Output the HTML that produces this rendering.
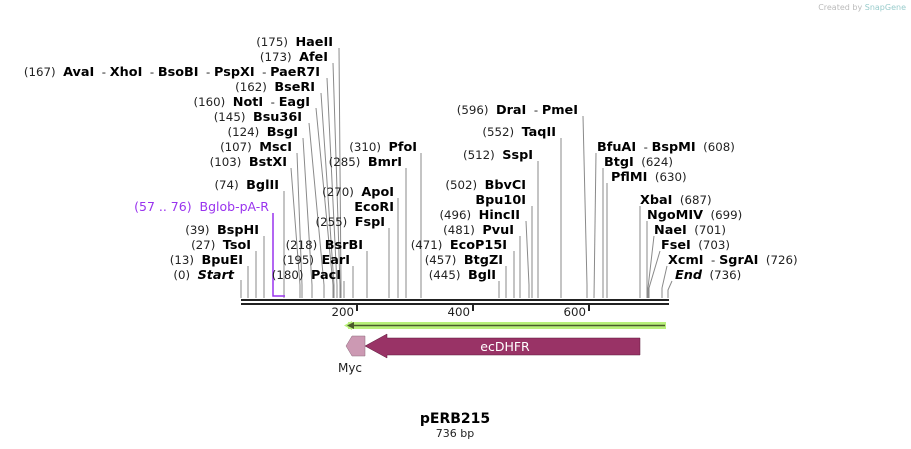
<!DOCTYPE html>
<html><head><meta charset="utf-8"><style>
html,body{margin:0;padding:0;background:#fff;}
svg{display:block;font-family:"DejaVu Sans","Liberation Sans",sans-serif;}
text{white-space:pre;}
.n{font-size:11.8px;fill:#222;}
.b{font-size:12.8px;font-weight:bold;fill:#000;}
.l{stroke:#8a8a8a;stroke-width:1;fill:none;}
</style></head><body>
<svg width="911" height="449" viewBox="0 0 911 449" xml:space="preserve">
<text x="906" y="10" text-anchor="end" style="font-size:8px;fill:#bbb">Created by <tspan style="fill:#9cc">SnapGene</tspan></text>

<g class="l">
<polyline points="241,280 241,298"/>
<polyline points="248,266 248,298"/>
<polyline points="256,251 256,298"/>
<polyline points="264,236 264,298"/>
<polyline points="284,191 284,298"/>
<polyline points="291,168 300,285 300,298"/>
<polyline points="297,153 302,285 302,298"/>
<polyline points="303,138 312,285 312,298"/>
<polyline points="309,123 324,285 324,298"/>
<polyline points="316,108 333,285 333,298"/>
<polyline points="321,93 334,285 334,298"/>
<polyline points="327,78 337,285 337,298"/>
<polyline points="333,63 340,285 340,298"/>
<polyline points="339,48 341,285 341,298"/>
<polyline points="344,281 344,298"/>
<polyline points="353,266 353,298"/>
<polyline points="367,251 367,298"/>
<polyline points="389,228 389,298"/>
<polyline points="398,213 398,298"/>
<polyline points="398,198 398,298"/>
<polyline points="406,168 406,298"/>
<polyline points="421,153 421,298"/>
<polyline points="499,281 499,298"/>
<polyline points="506,266 506,298"/>
<polyline points="514,251 514,298"/>
<polyline points="520,236 520,298"/>
<polyline points="526,221 529,285 529,298"/>
<polyline points="532,206 532,298"/>
<polyline points="538,161 538,298"/>
<polyline points="561,138 561,298"/>
<polyline points="583,116 587,285 587,298"/>
<polyline points="596,153 594,298"/>
<polyline points="603,168 603,298"/>
<polyline points="607,183 607,298"/>
<polyline points="640,206 640,298"/>
<polyline points="647,221 647,298"/>
<polyline points="654,236 648,288 648,298"/>
<polyline points="660,251 649,288 649,298"/>
<polyline points="667,266 662,288 662,298"/>
<polyline points="672,281 668,290 668,298"/>
</g>
<polyline points="273,213 273,296 285,296" stroke="#9933ee" stroke-width="1.5" fill="none"/>

<g>
<text x="234" y="279" text-anchor="end"><tspan class="n">(0)  </tspan><tspan class="b" font-style="italic">Start</tspan></text>
<text x="243" y="264" text-anchor="end"><tspan class="n">(13)  </tspan><tspan class="b">BpuEI</tspan></text>
<text x="251" y="249" text-anchor="end"><tspan class="n">(27)  </tspan><tspan class="b">TsoI</tspan></text>
<text x="259" y="234" text-anchor="end"><tspan class="n">(39)  </tspan><tspan class="b">BspHI</tspan></text>
<text x="269" y="211" text-anchor="end" style="font-size:12.5px;fill:#9933ee">(57 .. 76)  Bglob-pA-R</text>
<text x="279" y="189" text-anchor="end"><tspan class="n">(74)  </tspan><tspan class="b">BglII</tspan></text>
<text x="287" y="166" text-anchor="end"><tspan class="n">(103)  </tspan><tspan class="b">BstXI</tspan></text>
<text x="292" y="151" text-anchor="end"><tspan class="n">(107)  </tspan><tspan class="b">MscI</tspan></text>
<text x="298" y="136" text-anchor="end"><tspan class="n">(124)  </tspan><tspan class="b">BsgI</tspan></text>
<text x="302" y="121" text-anchor="end"><tspan class="n">(145)  </tspan><tspan class="b">Bsu36I</tspan></text>
<text x="310" y="106" text-anchor="end"><tspan class="n">(160)  </tspan><tspan class="b">NotI</tspan><tspan class="n">  - </tspan><tspan class="b">EagI</tspan></text>
<text x="315" y="91" text-anchor="end"><tspan class="n">(162)  </tspan><tspan class="b">BseRI</tspan></text>
<text x="320" y="76" text-anchor="end"><tspan class="n">(167)  </tspan><tspan class="b">AvaI</tspan><tspan class="n">  - </tspan><tspan class="b">XhoI</tspan><tspan class="n">  - </tspan><tspan class="b">BsoBI</tspan><tspan class="n">  - </tspan><tspan class="b">PspXI</tspan><tspan class="n">  - </tspan><tspan class="b">PaeR7I</tspan></text>
<text x="328" y="61" text-anchor="end"><tspan class="n">(173)  </tspan><tspan class="b">AfeI</tspan></text>
<text x="333" y="46" text-anchor="end"><tspan class="n">(175)  </tspan><tspan class="b">HaeII</tspan></text>

<text x="341" y="279" text-anchor="end"><tspan class="n">(180)  </tspan><tspan class="b">PacI</tspan></text>
<text x="350" y="264" text-anchor="end"><tspan class="n">(195)  </tspan><tspan class="b">EarI</tspan></text>
<text x="363" y="249" text-anchor="end"><tspan class="n">(218)  </tspan><tspan class="b">BsrBI</tspan></text>
<text x="385" y="226" text-anchor="end"><tspan class="n">(255)  </tspan><tspan class="b">FspI</tspan></text>
<text x="394" y="211" text-anchor="end"><tspan class="b">EcoRI</tspan></text>
<text x="394" y="196" text-anchor="end"><tspan class="n">(270)  </tspan><tspan class="b">ApoI</tspan></text>
<text x="402" y="166" text-anchor="end"><tspan class="n">(285)  </tspan><tspan class="b">BmrI</tspan></text>
<text x="417" y="151" text-anchor="end"><tspan class="n">(310)  </tspan><tspan class="b">PfoI</tspan></text>

<text x="496" y="279" text-anchor="end"><tspan class="n">(445)  </tspan><tspan class="b">BglI</tspan></text>
<text x="503" y="264" text-anchor="end"><tspan class="n">(457)  </tspan><tspan class="b">BtgZI</tspan></text>
<text x="507" y="249" text-anchor="end"><tspan class="n">(471)  </tspan><tspan class="b">EcoP15I</tspan></text>
<text x="514" y="234" text-anchor="end"><tspan class="n">(481)  </tspan><tspan class="b">PvuI</tspan></text>
<text x="520" y="219" text-anchor="end"><tspan class="n">(496)  </tspan><tspan class="b">HincII</tspan></text>
<text x="526" y="204" text-anchor="end"><tspan class="b">Bpu10I</tspan></text>
<text x="526" y="189" text-anchor="end"><tspan class="n">(502)  </tspan><tspan class="b">BbvCI</tspan></text>
<text x="533" y="159" text-anchor="end"><tspan class="n">(512)  </tspan><tspan class="b">SspI</tspan></text>
<text x="556" y="136" text-anchor="end"><tspan class="n">(552)  </tspan><tspan class="b">TaqII</tspan></text>
<text x="578" y="114" text-anchor="end"><tspan class="n">(596)  </tspan><tspan class="b">DraI</tspan><tspan class="n">  - </tspan><tspan class="b">PmeI</tspan></text>

<text x="597" y="151"><tspan class="b">BfuAI</tspan><tspan class="n">  - </tspan><tspan class="b">BspMI</tspan><tspan class="n">  (608)</tspan></text>
<text x="604" y="166"><tspan class="b">BtgI</tspan><tspan class="n">  (624)</tspan></text>
<text x="611" y="181"><tspan class="b">PflMI</tspan><tspan class="n">  (630)</tspan></text>
<text x="640" y="204"><tspan class="b">XbaI</tspan><tspan class="n">  (687)</tspan></text>
<text x="647" y="219"><tspan class="b">NgoMIV</tspan><tspan class="n">  (699)</tspan></text>
<text x="654" y="234"><tspan class="b">NaeI</tspan><tspan class="n">  (701)</tspan></text>
<text x="661" y="249"><tspan class="b">FseI</tspan><tspan class="n">  (703)</tspan></text>
<text x="668" y="264"><tspan class="b">XcmI</tspan><tspan class="n">  - </tspan><tspan class="b">SgrAI</tspan><tspan class="n">  (726)</tspan></text>
<text x="675" y="279"><tspan class="b" font-style="italic">End</tspan><tspan class="n">  (736)</tspan></text>
</g>

<rect x="241" y="299" width="428" height="2" fill="#222"/>
<rect x="241" y="303" width="428" height="2" fill="#222"/>
<rect x="356" y="305" width="2" height="6" fill="#222"/>
<rect x="472" y="305" width="2" height="6" fill="#222"/>
<rect x="588" y="305" width="2" height="6" fill="#222"/>
<text x="354" y="316" text-anchor="end" class="n">200</text>
<text x="470" y="316" text-anchor="end" class="n">400</text>
<text x="586" y="316" text-anchor="end" class="n">600</text>

<rect x="348" y="322" width="318" height="7" fill="#b8f07a"/>
<polygon points="344,325.5 352,321 352,330" fill="#b8f07a"/>
<line x1="352" y1="325.5" x2="665" y2="325.5" stroke="#4a5a2a" stroke-width="1.6"/>
<polygon points="347,325.5 354,322 354,329" fill="#4a5a2a"/>

<polygon points="346,346 352,336 365,336 365,356 352,356" fill="#cc99b3" stroke="#8a6a7a" stroke-width="0.5"/>
<polygon points="365,346 387,334 387,338 640,338 640,355 387,355 387,358" fill="#993366" stroke="#5a1a3a" stroke-width="0.5"/>
<text x="505" y="351" text-anchor="middle" style="font-size:12.5px;fill:#fff">ecDHFR</text>
<text x="350" y="372" text-anchor="middle" style="font-size:12px;fill:#222">Myc</text>

<text x="455" y="423" text-anchor="middle" style="font-size:14px;font-weight:bold;fill:#000">pERB215</text>
<text x="455" y="437" text-anchor="middle" style="font-size:11px;fill:#222">736 bp</text>
</svg>
</body></html>
